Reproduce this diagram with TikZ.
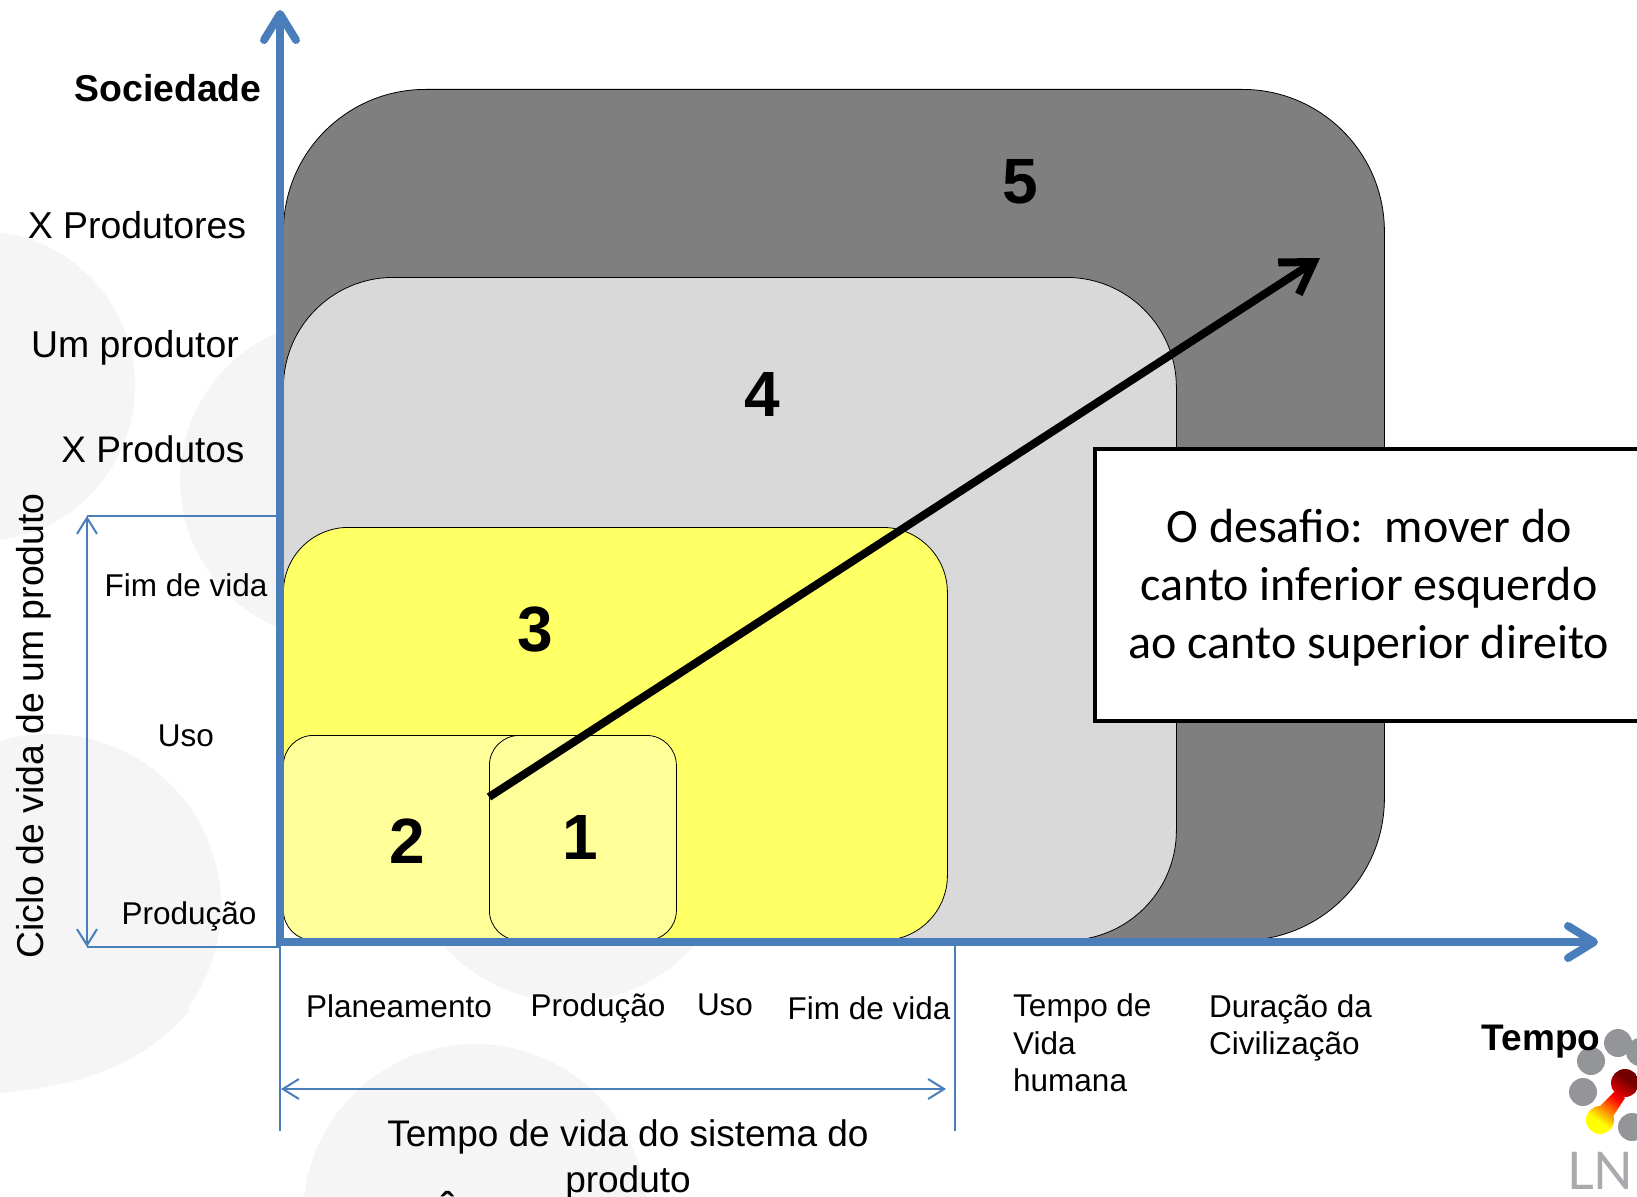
\documentclass[tikz,border=0pt]{standalone}
\usepackage{fontspec}
\setmainfont{Liberation Sans}
\newfontfamily\boxfont{Carlito}
\newfontfamily\lnefont{Lato}
\usetikzlibrary{arrows.meta}
\definecolor{axisblue}{HTML}{4A7EBB}
\definecolor{bgcirc}{HTML}{F5F5F6}
\definecolor{logogray}{HTML}{939598}
\definecolor{lvlfive}{HTML}{7F7F7F}
\definecolor{lvlfour}{HTML}{D9D9D9}
\definecolor{lvlthree}{HTML}{FFFF66}
\definecolor{lvlone}{HTML}{FFFF99}
\pgfdeclareverticalshading{lneshade}{100bp}{color(0bp)=(yellow); color(30bp)=(yellow); color(42bp)=(orange); color(54bp)=(red); color(72bp)=(red!45!black); color(100bp)=(red!45!black)}
\tikzset{
  x=1pt,y=-1pt,
  lvl/.style={draw=black,line width=0.8pt,inner sep=0pt,anchor=north west},
  num/.style={font=\fontsize{64}{64}\selectfont\bfseries,inner sep=0pt},
  big/.style={font=\fontsize{37}{46}\selectfont,inner sep=0pt,align=center},
  mid/.style={font=\fontsize{31.5}{37.5}\selectfont,inner sep=0pt,align=left},
  axisline/.style={draw=axisblue,line width=8pt,-{Straight Barb[length=26pt,width=32pt,round]}},
  dimline/.style={draw=axisblue,line width=2pt},
  dimarrow/.style={draw=axisblue,line width=2pt,{Straight Barb[length=16pt,width=20pt]}-{Straight Barb[length=16pt,width=20pt]}},
  logodot/.style={fill=logogray,draw=none},
}
\begin{document}
\begin{tikzpicture}
\useasboundingbox (0,0) rectangle (1637,1196);
\clip (0,0) rectangle (1637,1196);
% background circles
\fill[bgcirc] (-20,386) circle[radius=155];
\fill[bgcirc] (340,480) circle[radius=160];
\fill[bgcirc] (49,906) circle[radius=172];
\fill[bgcirc] (0,1093) .. controls (60,1087) and (135,1075) .. (190,1010) -- (0,906) -- cycle;
\fill[bgcirc] (569,835) circle[radius=167];
\fill[bgcirc] (475,1216) circle[radius=172];
% nested areas
\node[lvl,fill=lvlfive,rounded corners=142pt,minimum width=1101pt,minimum height=851pt] (r5) at (283,89) {};
\node[lvl,fill=lvlfour,rounded corners=110pt,minimum width=893pt,minimum height=663pt] (r4) at (283,277) {};
\node[lvl,fill=lvlthree,rounded corners=65pt,minimum width=664pt,minimum height=413pt] (r3) at (283,527) {};
\node[lvl,fill=lvlone,rounded corners=30pt,minimum width=300pt,minimum height=205pt] (r2) at (283,735) {};
\node[lvl,fill=lvlone,rounded corners=30pt,minimum width=187pt,minimum height=205pt] (r1) at (489,735) {};
% anchors
\coordinate (o) at (280,945);
\coordinate (ytip) at (280,10);
\coordinate (ostart) at (276,942);
\coordinate (xtip) at (1598,942);
\coordinate (vt) at (87,516);
\coordinate (vb) at (87,947);
\coordinate (vtr) at (278,516);
\coordinate (vbr) at (280,947);
\coordinate (t1) at (280,1131);
\coordinate (t2a) at (955,942);
\coordinate (t2b) at (955,1131);
\coordinate (ha) at (281,1089);
\coordinate (hb) at (946,1089);
\coordinate (cs) at (489,797);
\coordinate (ce) at (1320,258);
% axes and dimension lines
\draw[dimline] (vtr) -- (vt) (vb) -- (vbr) -- (t1) (t2a) -- (t2b);
\draw[dimarrow] (vt) -- (vb);
\draw[dimarrow] (ha) -- (hb);
\draw[axisline] (o) -- (ytip);
\draw[axisline] (ostart) -- (xtip);
% challenge arrow
\draw[line width=8pt,-{Straight Barb[length=30pt,width=38pt]}] (cs) -- (ce);
\node[draw=black,line width=4pt,fill=white,inner sep=0pt,anchor=north west,minimum width=560pt,minimum height=272pt] (box) at (1093,447) {};
\node[font=\fontsize{48}{58}\selectfont\boxfont,align=center,inner sep=0pt] (boxt) at (1369,588) {O desafio:\ \ mover do\\canto inferior esquerdo\\ao canto superior direito};
% numbers
\node[num] (n5) at (1020,182) {5};
\node[num] (n4) at (762,394) {4};
\node[num] (n3) at (535,630) {3};
\node[num] (n2) at (407,841) {2};
\node[num] (n1) at (580,837) {1};
% axis labels
\node[big,font=\fontsize{37.4}{46}\selectfont\bfseries] (soc) at (168,88) {Sociedade};
\node[big,font=\fontsize{37.4}{46}\selectfont] (xprod) at (137,225) {X Produtores};
\node[big,font=\fontsize{37.4}{46}\selectfont] (um) at (135,348) {Um produtor};
\node[big] (xpr) at (153,449) {X Produtos};
\node[mid] (fim) at (186,585) {Fim de vida};
\node[mid] (uso) at (186,736) {Uso};
\node[mid] (pro) at (189,916) {Produção};
\node[big,font=\fontsize{37.4}{46}\selectfont,rotate=90] (ciclo) at (34,726) {Ciclo de vida de um produto};
\node[mid] (pla) at (399,1006) {Planeamento};
\node[mid] (pro2) at (598,1008) {Produção};
\node[mid] (uso2) at (725,1005) {Uso};
\node[mid] (fim2) at (869,1008) {Fim de vida};
\node[mid,anchor=west] (tvh) at (1013,1043) {Tempo de\\Vida\\humana};
\node[mid,anchor=west] (dur) at (1209,1028) {Duração da\\Civilização};
\node[big] (tvs) at (628,1160) {Tempo de vida do sistema do\\produto};
\node[big,font=\fontsize{37}{46}\selectfont\bfseries] (cut) at (448,1208) {Â};
% logo
\fill[logodot] (1618,1043) circle[radius=14];
\fill[logodot] (1591,1061) circle[radius=14];
\fill[logodot] (1583,1092) circle[radius=14];
\fill[logodot] (1632,1127) circle[radius=14];
\fill[logodot] (1640,1052) circle[radius=14];
\shade[shading=lneshade,shading angle=-35]
  (1600,1120) circle[radius=14] (1625,1083) circle[radius=14]
  (1598,1108) -- (1614,1092) -- (1625,1098) -- (1612,1118) -- cycle;
\node[font=\fontsize{52}{52}\selectfont\lnefont,text=logogray!80,anchor=west,inner sep=0pt] (lne) at (1567,1171) {LNE};
\node[big,font=\fontsize{37}{46}\selectfont\bfseries] (tempo) at (1541,1042) {Tempo};
\end{tikzpicture}
\end{document}
